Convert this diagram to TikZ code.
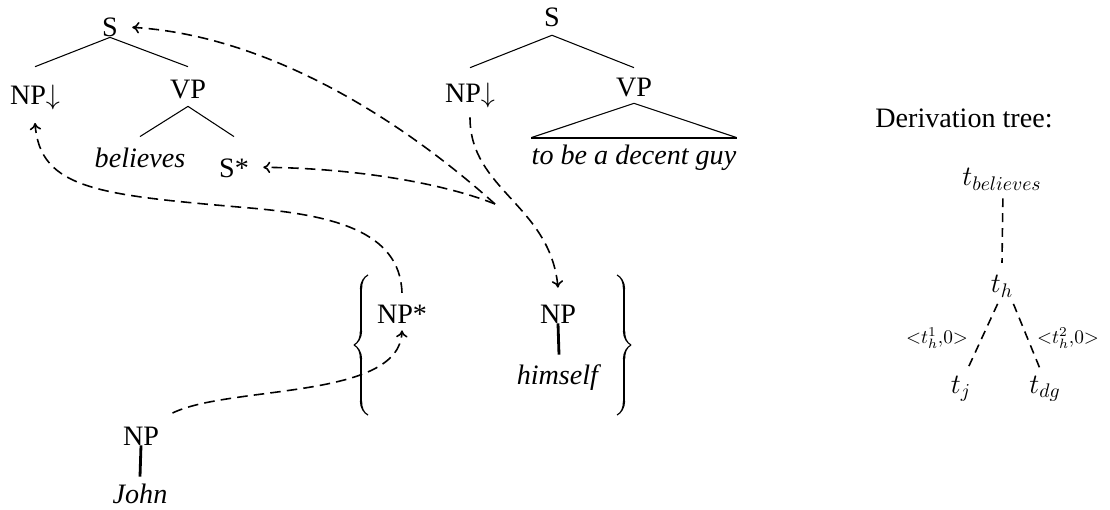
\RequirePackage{fix-cm}
\documentclass[tikz,border=0pt]{standalone}
\usepackage{fontspec}
\setmainfont{Liberation Serif}
\usetikzlibrary{arrows.meta,decorations.pathreplacing,calligraphy}

\tikzset{
  cat/.style={anchor=base, inner sep=0pt, text height=11pt, text depth=0pt},
  branch/.style={line width=0.6pt},
  stem/.style={line width=1.6pt},
  link/.style={-{To[length=4pt,width=6.5pt]}, dash pattern=on 6pt off 3.5pt, line width=0.9pt},
  dlink/.style={dash pattern=on 5pt off 3.5pt, line width=0.9pt},
  curly/.style={decorate, decoration={calligraphic brace, amplitude=8pt}, line width=1.3pt},
  slot/.style={font=\fontsize{11}{13}\selectfont, inner sep=0pt}
}

\begin{document}
\begin{tikzpicture}[x=0.02cm, y=-0.02cm, font=\fontsize{16}{19}\selectfont]
    \useasboundingbox (0,0) rectangle (1110,510);

    % tree for believes
    \node[cat] (sA) at (110,37) {S};
    \node[cat] (npA) at (35,105) {NP$\downarrow$};
    \node[cat] (vpA) at (188,99) {VP};
    \node[cat] (believes) at (140,168) {\textit{believes}};
    \node[cat] (sstar) at (234,177) {S*};
    \draw[branch] (sA.south) -- ([yshift=10.6pt]npA.north);
    \draw[branch] (sA.south) -- ([yshift=7.2pt]vpA.north);
    \draw[branch] ([yshift=-4pt]vpA.south) -- ([yshift=6.7pt]believes.north);
    \draw[branch] ([yshift=-4pt]vpA.south) -- ([yshift=11.8pt]sstar.north);

    % tree for to be a decent guy
    \node[cat] (sB) at (552,27) {S};
    \node[cat] (npB) at (470,103) {NP$\downarrow$};
    \node[cat] (vpB) at (634,97) {VP};
    \node[cat, inner ysep=4.4pt] (decent) at (634,165) {\textit{to be a decent guy}};
    \draw[branch] ([yshift=-4.5pt]sB.south) -- ([yshift=8.9pt]npB.north);
    \draw[branch] ([yshift=-4.5pt]sB.south) -- ([yshift=5.5pt]vpB.north);
    \draw[branch] (decent.north west) -- ([yshift=-3.4pt]vpB.south) -- (decent.north east);
    \draw[line width=1.2pt] (decent.north west) -- (decent.north east);

    % the set of himself
    \coordinate (lbtop) at (368,275);
    \coordinate (lbbot) at (368,415);
    \coordinate (rbtop) at (617,275);
    \coordinate (rbbot) at (617,415);
    \draw[curly] (lbbot) -- (lbtop);
    \draw[curly] (rbtop) -- (rbbot);
    \node[cat] (npstar) at (402,323) {NP*};
    \node[cat] (nphim) at (558,323) {NP};
    \node[cat] (himself) at (559,384) {\textit{himself}};
    \draw[stem] (nphim.south) -- ([yshift=5.5pt]himself.north);

    % John
    \node[cat] (npjohn) at (141,445) {NP};
    \node[cat] (john) at (140,503) {\textit{John}};
    \draw[stem] (npjohn.south) -- ([yshift=3.8pt]john.north);

    % substitution and adjunction links
    \coordinate (fork) at (495,204);
    \draw[link] ([yshift=6pt]npstar.north) .. controls (400,230) and (330,215) .. (250,208)
        .. controls (100,195) and (40,190) .. ([yshift=-10pt]npA.south);
    \draw[link] ([yshift=-8pt]npB.south) .. controls (470,190) and (550,205) .. ([yshift=8.9pt]nphim.north);
    \draw[link] (fork) .. controls (390,110) and (260,35) .. ([xshift=8pt]sA.east);
    \draw[link] (fork) .. controls (440,182) and (350,168) .. ([xshift=8pt]sstar.east);
    \draw[link] ([xshift=7.5pt,yshift=7pt]npjohn.north east) .. controls (230,385) and (400,400) .. ([yshift=-4pt]npstar.south);

    % derivation tree
    \node[cat] (dtitle) at (964,128) {Derivation tree:};
    \node[cat] (tbel) at (1002,186) {$t_{believes}$};
    \node[cat] (th) at (1002,293) {$t_h$};
    \node[cat] (tj) at (961,393) {$t_j$};
    \node[cat] (tdg) at (1045,393) {$t_{dg}$};
    \draw[dlink] ([xshift=0.5pt,yshift=-6.8pt]tbel.south) -- ([yshift=6pt]th.north);
    \draw[dlink] ([xshift=4pt,yshift=-6pt]th.south west) -- ([xshift=4pt,yshift=3pt]tj.north);
    \draw[dlink] ([yshift=-6pt]th.south east) -- ([xshift=-3pt,yshift=3pt]tdg.north);
    \node[slot] (slotj) at (937,338) {${<}t_h^1{,}0{>}$};
    \node[slot] (slotdg) at (1068,338) {${<}t_h^2{,}0{>}$};
\end{tikzpicture}
\end{document}
